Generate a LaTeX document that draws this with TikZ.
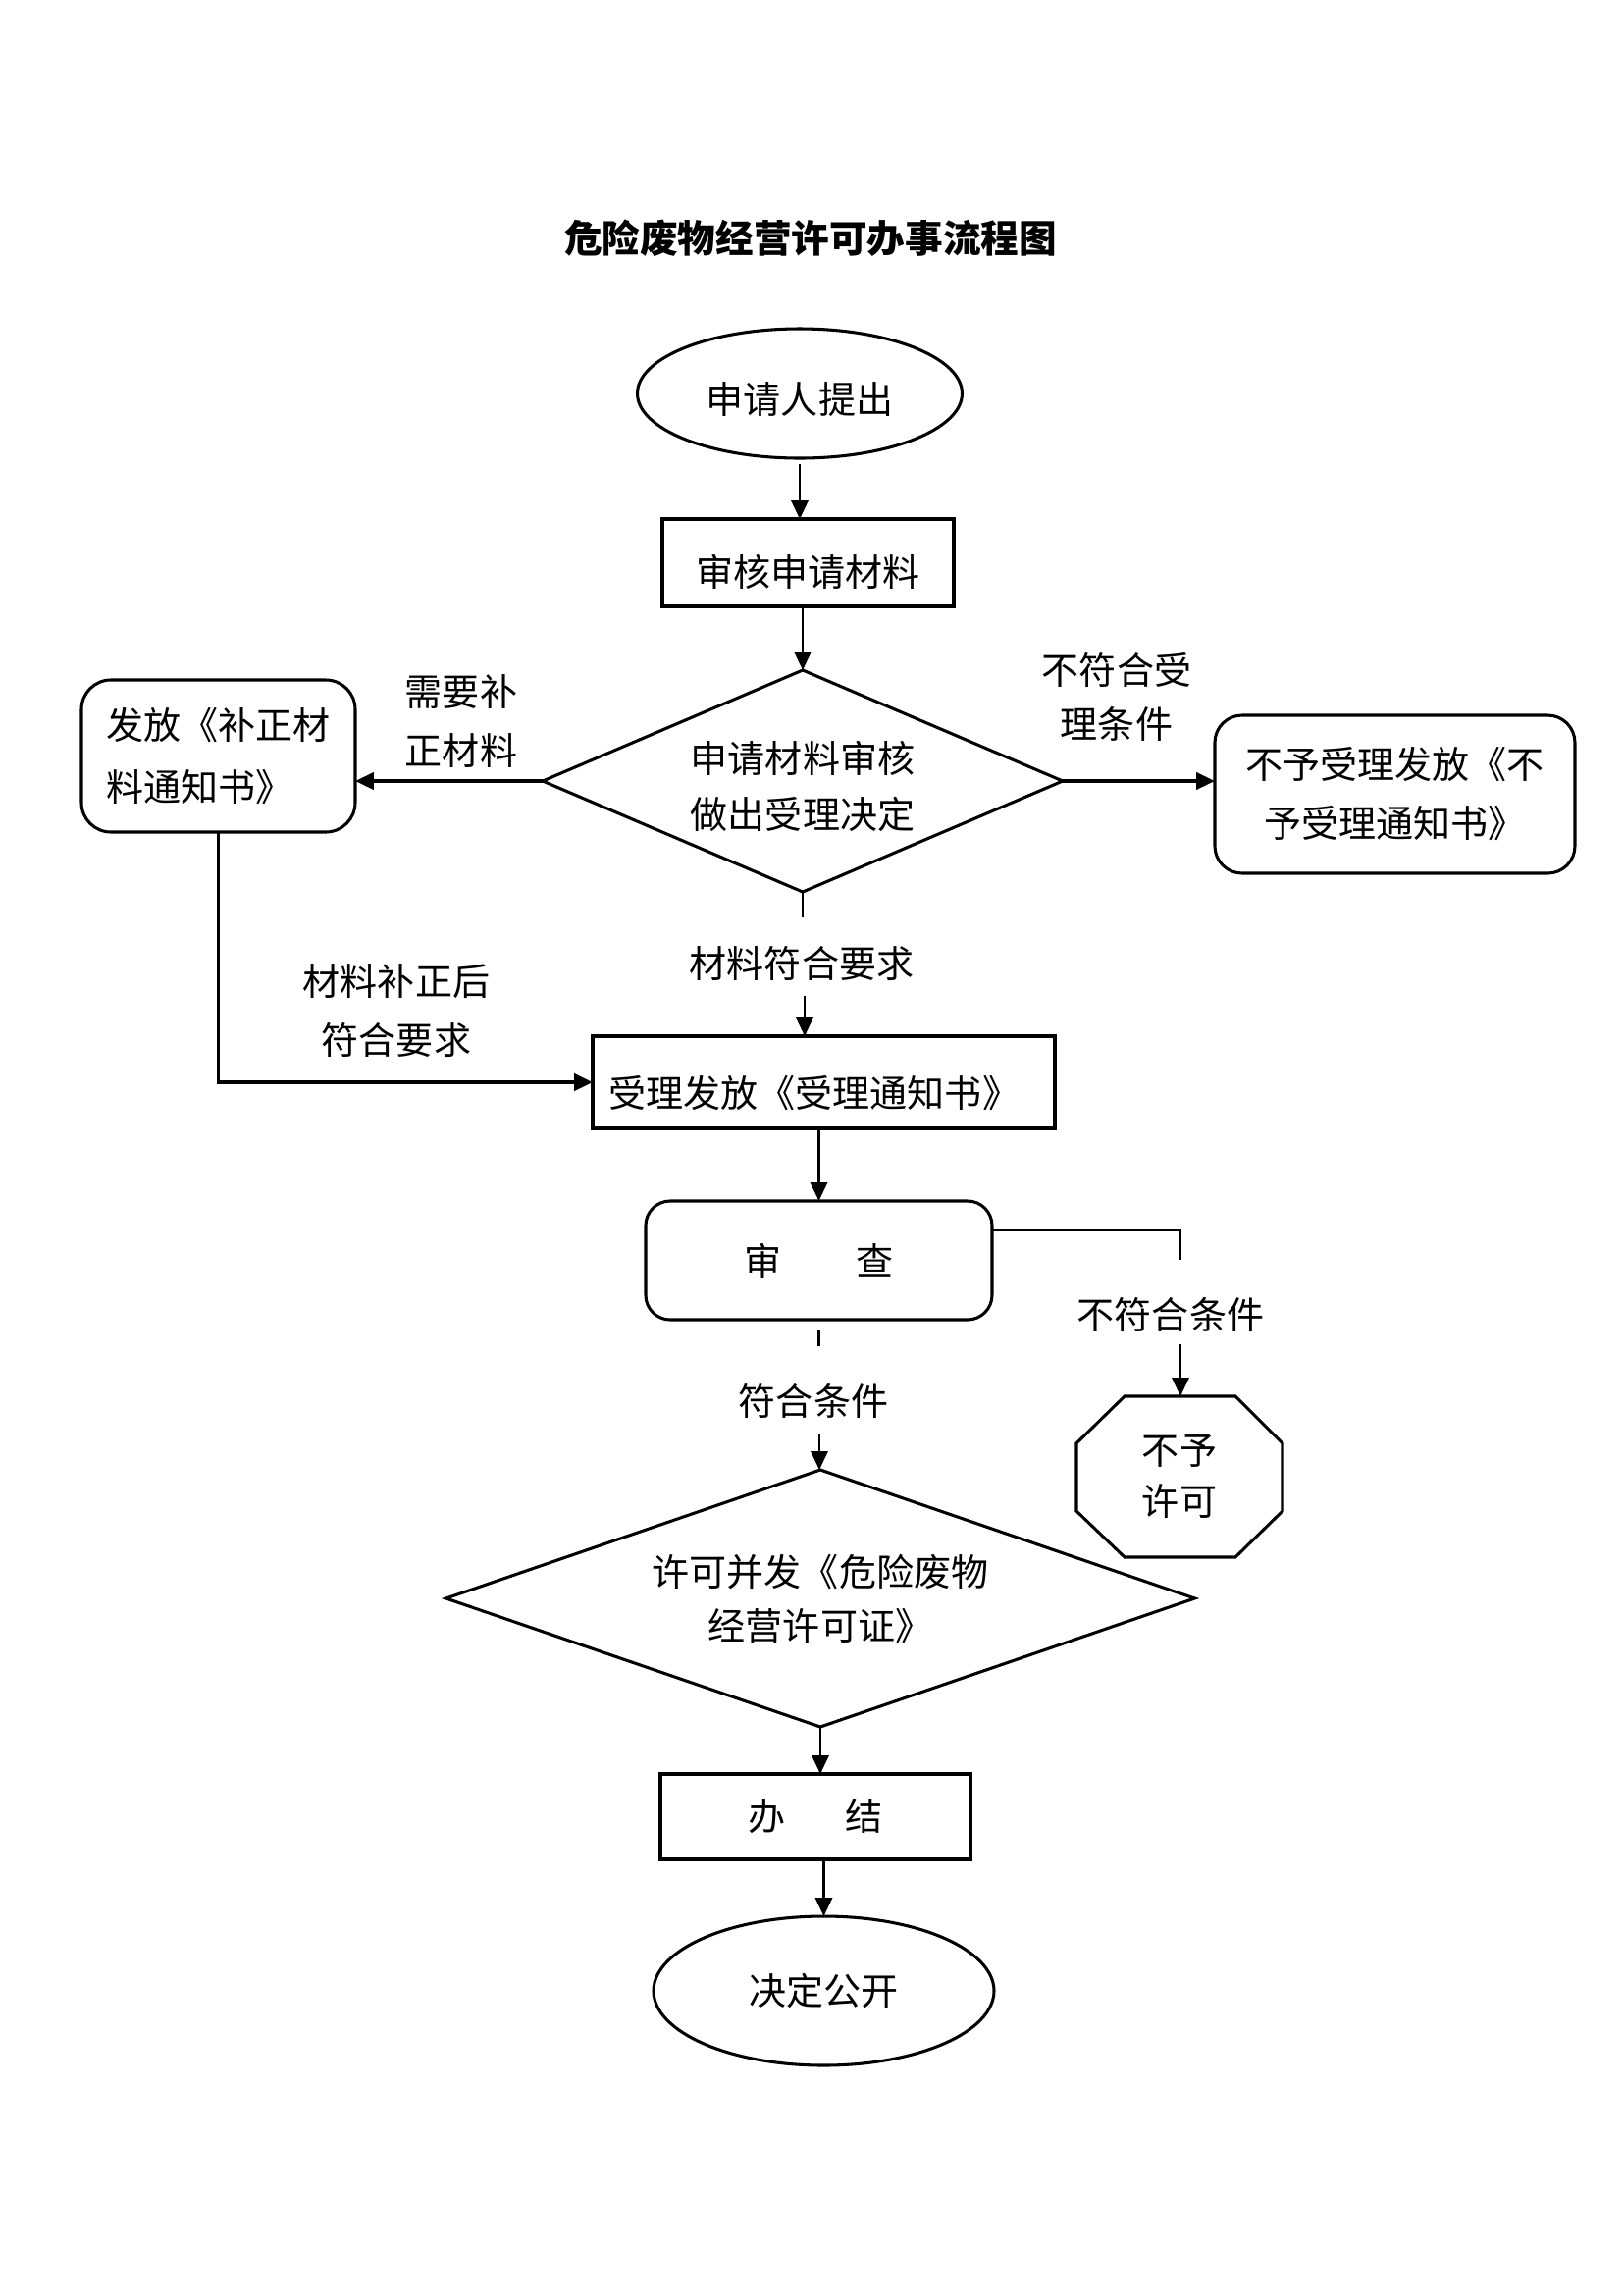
\documentclass[tikz,border=0pt]{standalone}
\usepackage{fontspec}
\newfontfamily\cjk{Noto Sans CJK SC}
\usetikzlibrary{shapes.geometric,arrows.meta,calc}
\begin{document}
\begin{tikzpicture}[x=0.36pt,y=-0.36pt,
  txt/.style={font=\fontsize{13.7}{21}\cjk, align=center, inner sep=0pt, outer sep=0pt},
  boxline/.style={draw, line width=1.1pt},
  conn/.style={line width=0.9pt},
  heavy/.style={line width=1.2pt},
  arr/.style={conn, -{Triangle[length=6.8pt,width=6.2pt]}}
]
\useasboundingbox (0,0) rectangle (1654,2339);

% title
\node[txt, font=\fontsize{13.9}{20}\cjk\bfseries] (title) at (826,243) {危险废物经营许可办事流程图};

% nodes
\node[txt, boxline, ellipse, minimum width=331*0.36pt, minimum height=132*0.36pt, text height=14.8pt, text depth=0pt] (start) at (815,401) {申请人提出};
\node[txt, boxline, rectangle, minimum width=297*0.36pt, minimum height=89*0.36pt, text height=17.2pt, text depth=0pt] (check) at (823.5,573.5) {审核申请材料};
\node[txt, boxline, diamond, aspect=2.35, minimum width=530*0.36pt, minimum height=226*0.36pt, font=\fontsize{13.7}{20.5}\cjk, text height=36.2pt] (d1) at (818,796) {申请材料审核\\做出受理决定};
\node[txt, boxline, rectangle, rounded corners=10.8pt, minimum width=279*0.36pt, minimum height=155*0.36pt, align=left, font=\fontsize{13.7}{22.7}\cjk] (supp) at (222.5,770.5) {发放《补正材\\料通知书》};
\node[txt, boxline, rectangle, rounded corners=10pt, minimum width=367*0.36pt, minimum height=161*0.36pt, font=\fontsize{13.7}{21.6}\cjk] (reject) at (1421.5,809.5) {不予受理发放《不\\予受理通知书》};
\node[txt, boxline, rectangle, minimum width=471*0.36pt, minimum height=94*0.36pt, text height=18pt, text depth=0pt] (accept) at (839.5,1103) {受理发放《受理通知书》\hspace*{7pt}};
\node[txt, boxline, rectangle, rounded corners=9pt, minimum width=353*0.36pt, minimum height=121*0.36pt] (review) at (834.5,1284.5) {审\hspace{2em}查};
\node[txt, boxline, diamond, aspect=2.9, minimum width=763*0.36pt, minimum height=262*0.36pt, font=\fontsize{13.7}{19.8}\cjk] (d2) at (836,1629) {许可并发《危险废物\\经营许可证》};
\node[txt, rectangle, minimum width=210*0.36pt, minimum height=164*0.36pt, font=\fontsize{13.7}{19}\cjk] (deny) at (1202,1505) {不予\\许可};
\draw[line width=1.1pt] ($(deny.north west)+(49,0)$) -- ($(deny.north east)+(-48,0)$) -- ($(deny.north east)+(0,48)$) -- ($(deny.south east)+(0,-47)$) -- ($(deny.south east)+(-48,0)$) -- ($(deny.south west)+(49,0)$) -- ($(deny.south west)+(0,-47)$) -- ($(deny.north west)+(0,48)$) -- cycle;
\node[txt, boxline, rectangle, minimum width=316*0.36pt, minimum height=87*0.36pt] (done) at (831,1851.5) {办\hspace{1.6em}结};
\node[txt, boxline, ellipse, minimum width=347*0.36pt, minimum height=152*0.36pt] (end) at (839.5,2029) {决定公开};

% labels
\node[txt, font=\fontsize{13.7}{21.6}\cjk] (lneed) at (470,735) {需要补\\正材料};
\node[txt, font=\fontsize{13.7}{19.8}\cjk] (lnot) at (1138,710) {不符合受\\理条件};
\node[txt] (lok) at (817,982) {材料符合要求};
\node[txt, font=\fontsize{13.7}{21.6}\cjk] (lfix) at (404,1030) {材料补正后\\符合要求};
\node[txt] (lpass) at (829,1428) {符合条件};
\node[txt] (lfail) at (1193,1340) {不符合条件};

% connectors
\draw[arr] ($(start.south)+(0,6)$) -- (start.south |- check.north);
\draw[arr] (check.south -| d1.north) -- (d1.north);
\draw[arr, heavy] (d1.west) -- (d1.west -| supp.east);
\draw[arr, heavy] (d1.east) -- (d1.east -| reject.west);
\coordinate (s1) at (818,935);
\draw[conn] (d1.south) -- (s1);
\coordinate (a1) at (820,1015);
\draw[arr] (a1) -- (a1 |- accept.north);
\draw[arr, heavy] (supp.south) |- (accept.west);
\draw[arr] (accept.south -| review.north) -- (review.north);
\coordinate (s2a) at (834.5,1355);
\coordinate (s2b) at (834.5,1372);
\draw[conn] (s2a) -- (s2b);
\coordinate (a2) at (835,1462);
\draw[arr] (a2) -- (a2 |- d2.north);
\coordinate (c3) at (1203,1284);
\draw[conn] ($(review.north east)+(0,30)$) -| (c3);
\coordinate (a3) at (1203,1370);
\draw[arr] (a3) -- (a3 |- deny.north);
\draw[arr] (d2.south) -- (d2.south |- done.north);
\draw[arr] (done.south -| end.north) -- (end.north);
\end{tikzpicture}
\end{document}
